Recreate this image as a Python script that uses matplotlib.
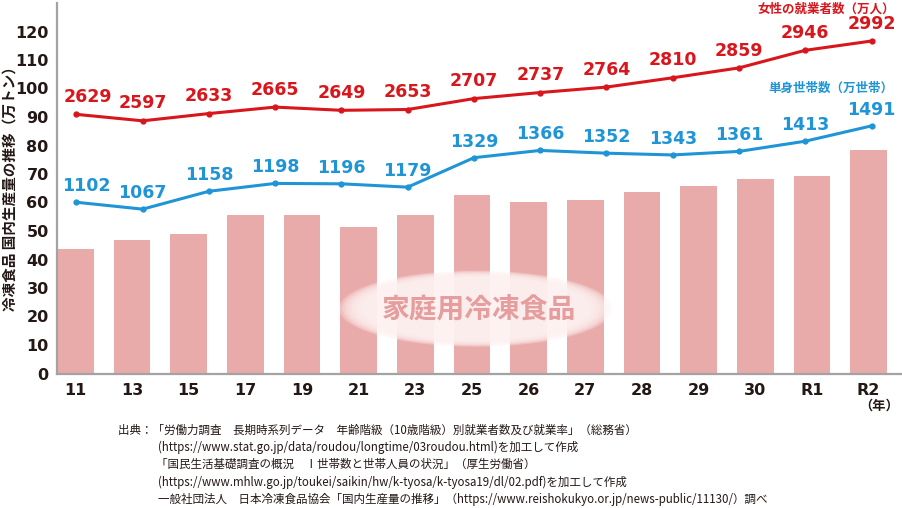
import matplotlib
matplotlib.use("Agg")
import matplotlib.pyplot as plt
from matplotlib.patches import Ellipse

# ---- data ----
years = ["11", "13", "15", "17", "19", "21", "23", "25", "26", "27", "28", "29", "30", "R1", "R2"]
production = [43.6, 46.8, 48.8, 55.6, 55.6, 51.3, 55.6, 62.5, 60.1, 61.0, 63.6, 65.9, 68.1, 69.4, 78.4]
women_workers = [2629, 2597, 2633, 2665, 2649, 2653, 2707, 2737, 2764, 2810, 2859, 2946, 2992]
single_households = [1102, 1067, 1158, 1198, 1196, 1179, 1329, 1366, 1352, 1343, 1361, 1413, 1491]
yticks = list(range(0, 121, 10))

BAR = "#e9abaa"
RED = "#d9161c"
BLUE = "#1f95d6"
DARK = "#231815"
JP = ["Noto Sans CJK JP", "DejaVu Sans"]

W, H = 902, 508
fig = plt.figure(figsize=(W / 100, H / 100), dpi=100)
left, bottom_px, top_px = 57, 373.5, 3
rect = [left / W, 1 - bottom_px / H, 1 - left / W, (bottom_px - top_px) / H]
ax = fig.add_axes(rect)

x = list(range(len(years)))
ax.bar(x, production, width=0.65, color=BAR, zorder=1)
ax.set_xlim(-0.325, 14.59)
ax.set_ylim(0, 130)
ax.set_yticks(yticks)
ax.set_xticks(x)
ax.set_xticklabels(years)
for s in ["top", "right"]:
    ax.spines[s].set_visible(False)
for s in ["left", "bottom"]:
    ax.spines[s].set_color("#a3a3a3")
    ax.spines[s].set_linewidth(1.6)
ax.tick_params(length=0, labelsize=11.5, colors=DARK)
ax.tick_params(axis="y", pad=6)
ax.tick_params(axis="x", pad=7)
for t in ax.get_xticklabels() + ax.get_yticklabels():
    t.set_fontweight("bold")
    t.set_family(["DejaVu Sans"])

# ellipse label
for k in range(8):
    sc = 1.08 - k * 0.025
    ax.add_patch(Ellipse((0.496, 0.175), 0.30 * sc, 0.19 * sc, transform=ax.transAxes,
                         facecolor="#fdf2f1", edgecolor="none", alpha=0.3, zorder=2))
ax.text(0.499, 0.173, "家庭用冷凍食品", transform=ax.transAxes, ha="center", va="center",
        fontsize=20, fontweight="bold", color="#e69d9d", family=JP, zorder=3)

# line overlays
def overlay(ylim):
    a = fig.add_axes(rect, frameon=False)
    a.set_xlim(-0.293, 12.46)
    a.set_ylim(*ylim)
    a.axis("off")
    return a

ax_r = overlay((1346.6, 3180.1))
ax_b = overlay((230.0, 2116.8))
idx = list(range(len(women_workers)))
ax_r.plot(idx, women_workers, color=RED, lw=2.2, marker="o", ms=3.5, zorder=4)
ax_b.plot(idx, single_households, color=BLUE, lw=2.2, marker="o", ms=3.5, zorder=4)
for i, v in enumerate(women_workers):
    dx = 8 if i == 0 else 0
    ax_r.annotate(str(v), (i, v), xytext=(dx, 6), textcoords="offset points", ha="center",
                  va="bottom", fontsize=12.5, fontweight="bold", color=RED, family=["DejaVu Sans"])
for i, v in enumerate(single_households):
    dx = 7 if i == 0 else 0
    ax_b.annotate(str(v), (i, v), xytext=(dx, 5), textcoords="offset points", ha="center",
                  va="bottom", fontsize=12.5, fontweight="bold", color=BLUE, family=["DejaVu Sans"])

# series titles
fig.text(895 / W, 1 - 9 / H, "女性の就業者数（万人）", ha="right", va="center", fontsize=9,
         fontweight="bold", color=RED, family=JP)
fig.text(893 / W, 1 - 88 / H, "単身世帯数（万世帯）", ha="right", va="center", fontsize=9,
         fontweight="bold", color=BLUE, family=JP)

# y axis title
fig.text(10 / W, 1 - 185 / H, "冷凍食品 国内生産量の推移（万トン）", rotation=90, ha="center",
         va="center", fontsize=10.5, fontweight="bold", color=DARK, family=JP)
fig.text(899 / W, 1 - 406 / H, "（年）", ha="right", va="center", fontsize=9.5,
         fontweight="bold", color=DARK, family=JP)

# source notes
src = [
    (118, "出典：「労働力調査　長期時系列データ　年齢階級（10歳階級）別就業者数及び就業率」（総務省）"),
    (158, "(https://www.stat.go.jp/data/roudou/longtime/03roudou.html)を加工して作成"),
    (156, "「国民生活基礎調査の概況　Ⅰ世帯数と世帯人員の状況」（厚生労働省）"),
    (158, "(https://www.mhlw.go.jp/toukei/saikin/hw/k-tyosa/k-tyosa19/dl/02.pdf)を加工して作成"),
    (158, "一般社団法人　日本冷凍食品協会「国内生産量の推移」（https://www.reishokukyo.or.jp/news-public/11130/）調べ"),
]
for k, (xp, s) in enumerate(src):
    fig.text(xp / W, 1 - (430 + k * 17.3) / H, s, ha="left", va="center", fontsize=8.3,
             color=DARK, family=JP)

fig.savefig("out.png", dpi=100)
